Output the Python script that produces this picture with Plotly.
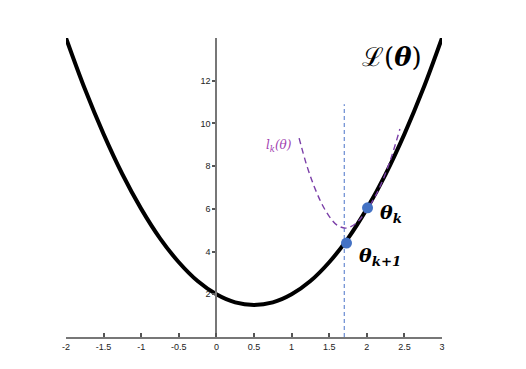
import plotly.graph_objects as go

# Loss curve L(theta)
theta = [-2.0, -1.75, -1.5, -1.25, -1.0, -0.75, -0.5, -0.25, 0.0, 0.25, 0.5, 0.75, 1.0, 1.25, 1.5, 1.75, 2.0, 2.25, 2.5, 2.75, 3.0]
loss = [14.0, 11.62, 9.5, 7.62, 6.0, 4.62, 3.5, 2.62, 2.0, 1.62, 1.5, 1.62, 2.0, 2.62, 3.5, 4.62, 6.0, 7.62, 9.5, 11.62, 14.0]

# Local quadratic model l_k(theta)
lk_theta = [1.10, 1.20, 1.30, 1.40, 1.50, 1.60, 1.72, 1.85, 2.00, 2.15, 2.30, 2.44]
lk_val = [9.31, 8.05, 7.05, 6.25, 5.65, 5.25, 5.10, 5.30, 5.95, 6.85, 8.15, 9.74]

# Iterates
pts_theta = [2.01, 1.73]
pts_loss = [6.05, 4.40]

# Vertical step line
vline_x = [1.7, 1.7]
vline_y = [0.0, 10.9]

xticks = [-2, -1.5, -1, -0.5, 0, 0.5, 1, 1.5, 2, 2.5, 3]
xticklabels = ["-2", "-1.5", "-1", "-0.5", "0", "0.5", "1", "1.5", "2", "2.5", "3"]
yticks = [2, 4, 6, 8, 10, 12]
yticklabels = ["2", "4", "6", "8", "10", "12"]

fig = go.Figure()
fig.add_trace(go.Scatter(x=vline_x, y=vline_y, mode="lines",
                         line=dict(color="#4a72c8", width=1, dash="4px,3px"), hoverinfo="skip"))
fig.add_trace(go.Scatter(x=theta, y=loss, mode="lines", line_shape="spline",
                         line=dict(color="black", width=4), hoverinfo="skip"))
fig.add_trace(go.Scatter(x=lk_theta, y=lk_val, mode="lines", line_shape="spline",
                         line=dict(color="#7b3fa8", width=1.4, dash="6px,4px"), hoverinfo="skip"))
fig.add_trace(go.Scatter(x=pts_theta, y=pts_loss, mode="markers",
                         marker=dict(color="#4472c4", size=11), hoverinfo="skip"))

fig.add_annotation(x=2.33, y=13.1, text="ℒ(<b><i>θ</i></b>)", showarrow=False,
                   font=dict(family="DejaVu Serif", size=26, color="black"))
fig.add_annotation(x=2.15, y=5.8, text="<b><i>θ</i></b><sub><b><i>k</i></b></sub>", showarrow=False,
                   xanchor="left", font=dict(family="DejaVu Serif", size=19, color="black"))
fig.add_annotation(x=1.87, y=3.75, text="<b><i>θ</i></b><sub><b><i>k+1</i></b></sub>", showarrow=False,
                   xanchor="left", font=dict(family="DejaVu Serif", size=19, color="black"))
fig.add_annotation(x=0.83, y=8.95, text="<i>l<sub>k</sub>(θ)</i>", showarrow=False,
                   font=dict(family="DejaVu Serif", size=12, color="#a040b0"))

fig.update_layout(
    width=526, height=369,
    margin=dict(l=66, r=84, t=38, b=32),
    plot_bgcolor="white", paper_bgcolor="white",
    showlegend=False,
    xaxis=dict(range=[-2, 3], tickvals=xticks, ticktext=xticklabels,
               showgrid=False, zeroline=False, showline=True, linecolor="#777", linewidth=2,
               ticks="inside", ticklen=4, tickwidth=1.5, tickcolor="#555",
               tickfont=dict(family="Liberation Sans", size=9, color="#222")),
    yaxis=dict(range=[0, 14], tickvals=yticks, ticktext=yticklabels,
               anchor="free", position=0.4,
               showgrid=False, zeroline=False, showline=True, linecolor="#777", linewidth=2,
               ticks="outside", ticklen=3, tickwidth=1.5, tickcolor="#555",
               tickfont=dict(family="Liberation Sans", size=9, color="#222")),
)

fig.write_html("out.html")
